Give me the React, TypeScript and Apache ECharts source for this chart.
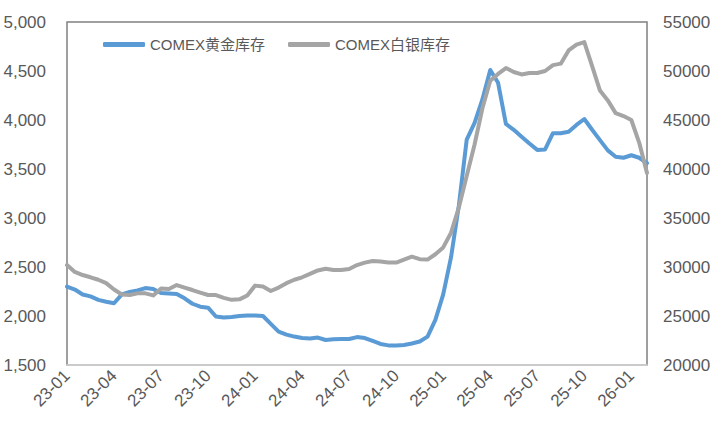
import React, { useEffect, useRef } from 'react'
import * as echarts from 'echarts'

// half-monthly points from 2023-01-01 to 2026-02-01
const categories: string[] = []
for (let y = 2023; y <= 2026; y++) {
  for (let m = 1; m <= 12; m++) {
    if (y === 2026 && m > 2) break
    const mm = String(m).padStart(2, '0')
    categories.push(`${y}-${mm}-01`)
    if (!(y === 2026 && m === 2)) categories.push(`${y}-${mm}-16`)
  }
}

const goldStock = [
  2300, 2270, 2220, 2200, 2165, 2145, 2130, 2220, 2245, 2260,
  2285, 2275, 2235, 2230, 2225, 2180, 2125, 2095, 2085, 1995,
  1985, 1990, 2000, 2005, 2005, 2000, 1920, 1840, 1810, 1790,
  1775, 1770, 1780, 1755, 1762, 1765, 1765, 1785, 1775, 1745,
  1715, 1700, 1700, 1705, 1720, 1740, 1790, 1960, 2220, 2600,
  3130, 3800, 3970, 4210, 4510, 4380, 3960, 3900, 3830, 3760,
  3695, 3700, 3865, 3865, 3880, 3950, 4010, 3900, 3795, 3690,
  3625, 3615, 3640, 3615, 3560
]

const silverStock = [
  30200, 29500, 29180, 28950, 28700, 28350, 27700, 27200, 27150, 27310,
  27310, 27100, 27800, 27750, 28160, 27900, 27650, 27380, 27140, 27140,
  26850, 26650, 26700, 27100, 28100, 28000, 27550, 27900, 28350, 28700,
  28950, 29300, 29650, 29820, 29690, 29690, 29800, 30200, 30450, 30620,
  30560, 30450, 30450, 30750, 31050, 30800, 30760, 31300, 32000, 33500,
  36100, 39300, 42500, 46200, 49000, 49700, 50300, 49900, 49650, 49800,
  49800, 50000, 50600, 50750, 52100, 52700, 52950, 50500, 48000, 47000,
  45700, 45400, 45000, 42700, 39600
]

const seriesNames = ['COMEX黄金库存', 'COMEX白银库存']

const FONT = 'Liberation Sans, Arial, Noto Sans CJK SC, sans-serif'
const TEXT = '#595959'

const App: React.FC = () => {
  const chartRef = useRef<HTMLDivElement>(null)

  useEffect(() => {
    if (!chartRef.current) return
    const chart = echarts.init(chartRef.current, undefined, { renderer: 'svg' })

    const option: echarts.EChartsOption = {
      animation: false,
      backgroundColor: '#ffffff',
      textStyle: { fontFamily: FONT },
      grid: {
        left: 67,
        right: 69,
        top: 22,
        bottom: 72,
        show: true,
        borderColor: '#808080',
        borderWidth: 1.5
      },
      legend: {
        left: 98,
        top: 32,
        itemWidth: 42,
        itemHeight: 5,
        itemGap: 23,
        icon: 'roundRect',
        textStyle: { fontSize: 15, color: TEXT, fontFamily: FONT },
        data: seriesNames
      },
      xAxis: {
        type: 'category',
        data: categories,
        boundaryGap: false,
        axisLine: { show: true, lineStyle: { color: '#d9d9d9', width: 1.5 } },
        axisTick: { show: false },
        splitLine: { show: false },
        z: 5,
        axisLabel: {
          rotate: 45,
          margin: 8,
          fontSize: 17,
          color: TEXT,
          fontFamily: FONT,
          interval: (i: number) => i % 6 === 0,
          formatter: (v: string) => v.slice(2, 7)
        }
      },
      yAxis: [
        {
          type: 'value',
          min: 1500,
          max: 5000,
          interval: 500,
          axisLine: { show: false },
          axisTick: { show: false },
          splitLine: { show: false },
          axisLabel: {
            margin: 21,
            fontSize: 17,
            color: TEXT,
            fontFamily: FONT,
            formatter: (v: number) => v.toLocaleString('en-US')
          }
        },
        {
          type: 'value',
          min: 20000,
          max: 55000,
          interval: 5000,
          position: 'right',
          axisLine: { show: false },
          axisTick: { show: false },
          splitLine: { show: false },
          axisLabel: {
            margin: 16,
            fontSize: 17,
            color: TEXT,
            fontFamily: FONT,
            formatter: (v: number) => String(v)
          }
        }
      ],
      series: [
        {
          name: seriesNames[0],
          type: 'line',
          yAxisIndex: 0,
          data: goldStock,
          showSymbol: false,
          symbol: 'none',
          itemStyle: { color: '#5B9BD5' },
          lineStyle: { color: '#5B9BD5', width: 4, join: 'round', cap: 'round' }
        },
        {
          name: seriesNames[1],
          type: 'line',
          yAxisIndex: 1,
          data: silverStock,
          showSymbol: false,
          symbol: 'none',
          itemStyle: { color: '#A5A5A5' },
          lineStyle: { color: '#A5A5A5', width: 4, join: 'round', cap: 'round' }
        }
      ]
    }

    chart.setOption(option)
    return () => {
      chart.dispose()
    }
  }, [])

  return (
    <div
      ref={chartRef}
      style={{ position: 'absolute', left: 0, top: 0, width: 716, height: 437 }}
    />
  )
}

export default App
